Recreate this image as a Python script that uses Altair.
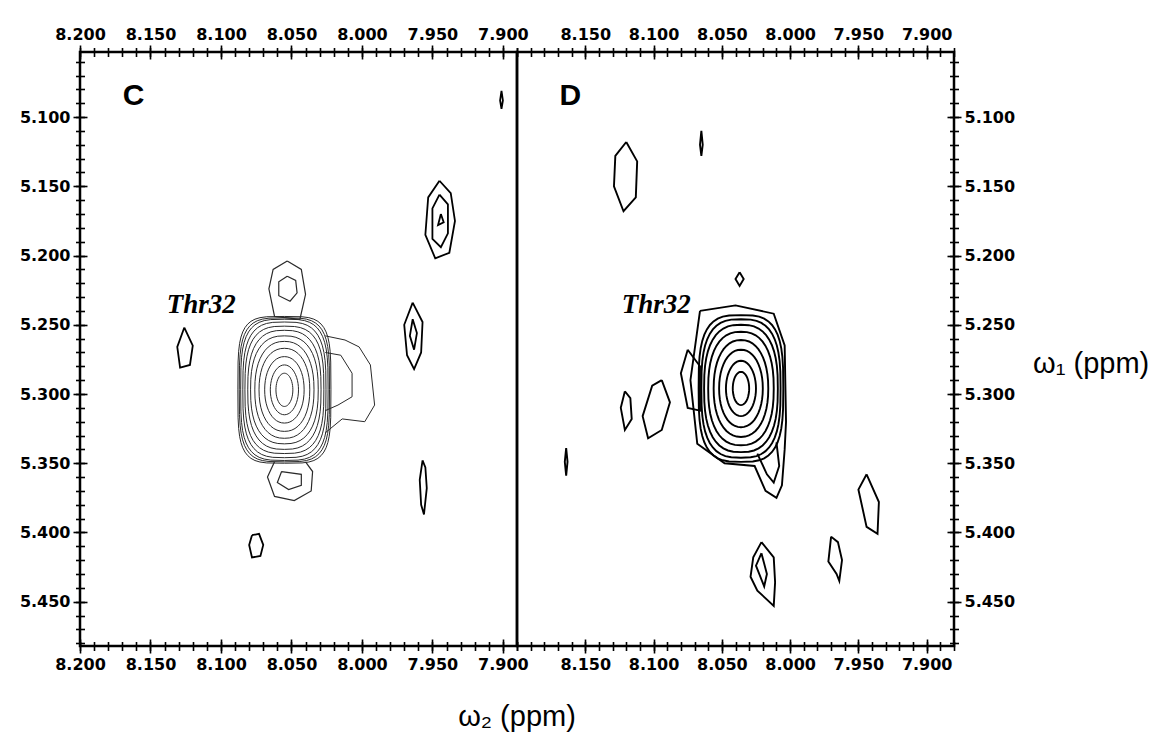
import altair as alt
import pandas as pd
import numpy as np

# ---------------- data (ppm) ----------------
# Panel C: concentric rings of the Thr32 cross peak (center, half widths, squareness)
C_cx, C_cy = 8.055, 5.297
C_ring_rx = [0.006, 0.010, 0.014, 0.018, 0.021, 0.024, 0.026, 0.028, 0.0295, 0.031, 0.032, 0.033]
C_ring_ry = [0.012, 0.018, 0.024, 0.030, 0.035, 0.039, 0.043, 0.046, 0.049, 0.051, 0.052, 0.053]
C_ring_p = [2.0, 2.0, 2.1, 2.2, 2.3, 2.5, 2.7, 3.0, 3.2, 3.5, 3.8, 4.2]

# Panel C: other contours as vertex lists (omega2, omega1)
C_contours = [
    # protrusion right of the main peak
    [(8.026, 5.258), (8.012, 5.261), (8.002, 5.266), (7.994, 5.279), (7.991, 5.308), (7.998, 5.320), (8.014, 5.318), (8.026, 5.328)],
    [(8.026, 5.270), (8.015, 5.272), (8.007, 5.285), (8.007, 5.302), (8.017, 5.308), (8.026, 5.312)],
    # small peak above
    [(8.053, 5.204), (8.063, 5.210), (8.066, 5.224), (8.062, 5.244), (8.044, 5.246), (8.040, 5.228), (8.043, 5.210), (8.053, 5.204)],
    [(8.053, 5.215), (8.059, 5.219), (8.059, 5.229), (8.051, 5.233), (8.046, 5.227), (8.047, 5.218), (8.053, 5.215)],
    # small peak below
    [(8.062, 5.349), (8.067, 5.360), (8.062, 5.374), (8.048, 5.377), (8.036, 5.370), (8.035, 5.356), (8.040, 5.349)],
    [(8.057, 5.356), (8.060, 5.364), (8.052, 5.369), (8.043, 5.366), (8.043, 5.358), (8.057, 5.356)],
    # small diamond left of the main peak
    [(8.126, 5.252), (8.131, 5.266), (8.129, 5.281), (8.122, 5.279), (8.120, 5.265), (8.126, 5.252)],
    # small square lower left
    [(8.078, 5.402), (8.073, 5.401), (8.070, 5.409), (8.072, 5.417), (8.078, 5.418), (8.080, 5.409), (8.078, 5.402)],
    # peak near 7.963 / 5.255
    [(7.964, 5.234), (7.970, 5.250), (7.968, 5.272), (7.963, 5.282), (7.958, 5.270), (7.957, 5.248), (7.964, 5.234)],
    [(7.964, 5.246), (7.966, 5.258), (7.963, 5.268), (7.961, 5.256), (7.964, 5.246)],
    # peak near 7.945 / 5.175
    [(7.945, 5.146), (7.953, 5.158), (7.955, 5.185), (7.948, 5.202), (7.938, 5.198), (7.934, 5.175), (7.937, 5.155), (7.945, 5.146)],
    [(7.945, 5.156), (7.950, 5.166), (7.950, 5.188), (7.944, 5.194), (7.939, 5.184), (7.939, 5.163), (7.945, 5.156)],
    [(7.944, 5.170), (7.946, 5.178), (7.942, 5.176), (7.944, 5.170)],
    # thin vertical peak 7.956 / 5.37
    [(7.957, 5.348), (7.959, 5.362), (7.958, 5.380), (7.956, 5.387), (7.954, 5.368), (7.955, 5.353), (7.957, 5.348)],
    # tiny dash near the top
    [(7.901, 5.081), (7.902, 5.088), (7.901, 5.094), (7.900, 5.088), (7.901, 5.081)],
]

# Panel D: concentric rings of the Thr32 cross peak
D_cx, D_cy = 8.036, 5.296
D_ring_rx = [0.006, 0.011, 0.016, 0.020, 0.024, 0.027, 0.029, 0.031]
D_ring_ry = [0.012, 0.020, 0.028, 0.035, 0.041, 0.046, 0.050, 0.053]
D_ring_p = [2.0, 2.0, 2.1, 2.2, 2.4, 2.6, 2.9, 3.2]

D_contours = [
    # outer contour with tail to the lower right
    [(8.066, 5.240), (8.040, 5.236), (8.012, 5.242), (8.004, 5.265), (8.003, 5.320), (8.004, 5.340), (8.006, 5.366), (8.010, 5.375), (8.018, 5.370), (8.026, 5.352), (8.048, 5.350), (8.068, 5.336), (8.073, 5.290), (8.066, 5.240)],
    [(8.010, 5.335), (8.008, 5.352), (8.012, 5.364), (8.017, 5.358), (8.024, 5.343)],
    # left ear
    [(8.075, 5.268), (8.080, 5.285), (8.075, 5.310), (8.066, 5.312), (8.066, 5.280), (8.075, 5.268)],
    # peak near 8.10 / 5.31
    [(8.094, 5.290), (8.101, 5.294), (8.108, 5.316), (8.104, 5.332), (8.094, 5.326), (8.088, 5.306), (8.094, 5.290)],
    # peak near 8.12 / 5.31
    [(8.121, 5.298), (8.124, 5.310), (8.121, 5.326), (8.116, 5.318), (8.117, 5.303), (8.121, 5.298)],
    # peak near 8.12 / 5.14
    [(8.120, 5.118), (8.128, 5.128), (8.129, 5.150), (8.122, 5.168), (8.113, 5.158), (8.112, 5.132), (8.120, 5.118)],
    # dash 8.065 / 5.12
    [(8.065, 5.110), (8.066, 5.120), (8.065, 5.128), (8.064, 5.120), (8.065, 5.110)],
    # tiny diamond 8.037 / 5.217
    [(8.037, 5.212), (8.040, 5.217), (8.037, 5.222), (8.034, 5.217), (8.037, 5.212)],
    # dash 8.164 / 5.35
    [(8.164, 5.339), (8.165, 5.349), (8.164, 5.359), (8.163, 5.349), (8.164, 5.339)],
    # peak near 8.020 / 5.43
    [(8.021, 5.407), (8.027, 5.418), (8.029, 5.432), (8.024, 5.442), (8.012, 5.453), (8.011, 5.436), (8.012, 5.418), (8.021, 5.407)],
    [(8.021, 5.415), (8.025, 5.424), (8.019, 5.439), (8.017, 5.430), (8.021, 5.415)],
    # peak near 7.967 / 5.42
    [(7.970, 5.403), (7.965, 5.407), (7.962, 5.420), (7.964, 5.435), (7.966, 5.430), (7.972, 5.421), (7.970, 5.403)],
    # peak near 7.943 / 5.38
    [(7.944, 5.358), (7.950, 5.369), (7.944, 5.396), (7.936, 5.401), (7.935, 5.378), (7.944, 5.358)],
]

# axis tick values and domains
C_x_major = [8.200, 8.150, 8.100, 8.050, 8.000, 7.950, 7.900]
D_x_major = [8.150, 8.100, 8.050, 8.000, 7.950, 7.900]
x_minor = [round(7.88 + 0.01 * k, 2) for k in range(33)]
y_major = [5.100, 5.150, 5.200, 5.250, 5.300, 5.350, 5.400, 5.450]
y_minor = [round(5.06 + 0.01 * k, 2) for k in range(43)]
C_xdomain = [8.200, 7.890]
D_xdomain = [8.200, 7.880]
ydomain = [5.482, 5.053]

# ---------------- build tables ----------------
t = np.linspace(0, 2 * np.pi, 49)

def ring_rows(panel, cx, cy, rxs, rys, ps, width, color, start):
    rows = []
    for k, (rx, ry, p) in enumerate(zip(rxs, rys, ps)):
        c, s = np.cos(t), np.sin(t)
        xs = cx + rx * np.sign(c) * np.abs(c) ** (2 / p)
        ys = cy + ry * np.sign(s) * np.abs(s) ** (2 / p)
        for i, (x, y) in enumerate(zip(xs, ys)):
            rows.append(dict(cid=f"{panel}{start + k}", i=i, x=x, y=y, w=width, col=color))
    return rows

def poly_rows(panel, polys, width, color, start):
    rows = []
    for k, poly in enumerate(polys):
        for i, (x, y) in enumerate(poly):
            rows.append(dict(cid=f"{panel}{start + k}", i=i, x=x, y=y, w=width, col=color))
    return rows

C_rows = ring_rows("C", C_cx, C_cy, C_ring_rx, C_ring_ry, C_ring_p, 1.0, "#2a2a2a", 0)
C_rows += poly_rows("C", C_contours[:2], 1.0, "#2a2a2a", 100)
C_rows += poly_rows("C", C_contours[2:6], 1.2, "#2a2a2a", 200)
C_rows += poly_rows("C", C_contours[6:], 1.8, "#000000", 300)
D_rows = ring_rows("D", D_cx, D_cy, D_ring_rx, D_ring_ry, D_ring_p, 1.9, "#000000", 0)
D_rows += poly_rows("D", D_contours, 1.9, "#000000", 100)
C_df = pd.DataFrame(C_rows)
D_df = pd.DataFrame(D_rows)

C_letter = pd.DataFrame({"x": [8.162], "y": [5.085], "t": ["C"]})
D_letter = pd.DataFrame({"x": [8.161], "y": [5.085], "t": ["D"]})
C_name = pd.DataFrame({"x": [8.114], "y": [5.236], "t": ["Thr32"]})
D_name = pd.DataFrame({"x": [8.098], "y": [5.236], "t": ["Thr32"]})
titles = pd.DataFrame({"t": ["ω₁ (ppm)", "ω₂ (ppm)"]})

LABEL_FONT = "DejaVu Sans"
W, H = 437, 594

def axis(orient, values, major, labels):
    size = 14 if major else 9
    return alt.Axis(
        orient=orient, values=values, labels=labels, format=".3f", title=None,
        domain=False, grid=False, offset=-size / 2, tickSize=size, tickWidth=1.6,
        tickColor="black", labelFont=LABEL_FONT, labelFontWeight="bold",
        labelFontSize=16, labelColor="black", labelPadding=3,
        labelOverlap=False, labelFlush=False,
    )

def panel(df, letter, name, xdom, x_major, yorient, with_titles=False):
    xs = alt.Scale(domain=xdom, nice=False, zero=False)
    ys = alt.Scale(domain=ydomain, nice=False, zero=False)
    lines = alt.Chart(df).mark_line(interpolate="linear").encode(
        x=alt.X("x:Q", scale=xs, axis=axis("bottom", x_major, True, True)),
        y=alt.Y("y:Q", scale=ys, axis=axis(yorient, y_major, True, True)),
        detail="cid:N",
        order="i:Q",
        strokeWidth=alt.StrokeWidth("w:Q", scale=None),
        color=alt.Color("col:N", scale=None),
    )
    let = alt.Chart(letter).mark_text(font="Liberation Sans", fontWeight="bold", fontSize=30,
                                      color="black").encode(
        x=alt.X("x:Q", scale=xs, axis=axis("top", x_major, True, True)),
        y=alt.Y("y:Q", scale=ys, axis=axis(yorient, y_minor, False, False)),
        text="t:N",
    )
    nm = alt.Chart(name).mark_text(font="Liberation Serif", fontWeight="bold", fontStyle="italic",
                                   fontSize=27, color="black").encode(
        x=alt.X("x:Q", scale=xs, axis=axis("bottom", x_minor, False, False)),
        y=alt.Y("y:Q", scale=ys, axis=None),
        text="t:N",
    )
    carrier = alt.Chart(letter).mark_point(opacity=0).encode(
        x=alt.X("x:Q", scale=xs, axis=axis("top", x_minor, False, False)),
        y=alt.Y("y:Q", scale=ys, axis=None),
    )
    layers = [lines, let, nm, carrier]
    if with_titles:
        t1 = alt.Chart(titles).transform_filter("datum.t == 'ω₁ (ppm)'").mark_text(
            font="Liberation Sans", fontSize=29, align="left", baseline="middle", color="black"
        ).encode(x=alt.value(W + 79), y=alt.value(312), text="t:N")
        t2 = alt.Chart(titles).transform_filter("datum.t == 'ω₂ (ppm)'").mark_text(
            font="Liberation Sans", fontSize=29, align="center", baseline="middle", color="black"
        ).encode(x=alt.value(0), y=alt.value(H + 71), text="t:N")
        layers += [t1, t2]
    return alt.layer(*layers).resolve_axis(x="independent", y="independent").properties(width=W, height=H)

left = panel(C_df, C_letter, C_name, C_xdomain, C_x_major, "left")
right = panel(D_df, D_letter, D_name, D_xdomain, D_x_major, "right", with_titles=True)

chart = alt.hconcat(left, right, spacing=0, bounds="flush").properties(
    padding={"left": 18, "top": 24, "right": 0, "bottom": 0},
    background="white",
).configure_view(stroke="black", strokeWidth=2.5)

chart.save("out.html", embed_options={"renderer": "svg", "actions": False})
